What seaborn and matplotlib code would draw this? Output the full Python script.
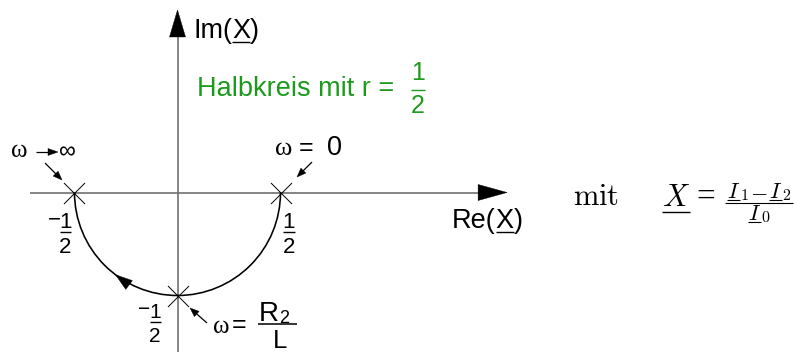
import numpy as np
import matplotlib
matplotlib.use("Agg")
import matplotlib.pyplot as plt
import matplotlib.transforms as mtransforms
from matplotlib.lines import Line2D
from matplotlib.patches import Arc, Polygon
import seaborn as sns

# Locus of X(omega): lower half circle with radius 1/2 around the origin
radius = 0.5
arc_from_deg, arc_to_deg = 180, 360
# characteristic frequencies on the locus
point_names = ["omega_inf", "omega_zero", "omega_R2L"]
point_re = [-0.5, 0.5, 0.0]
point_im = [0.0, 0.0, -0.5]
# extent of the drawn axes (data units)
re_axis = (-0.716, 1.60)
im_axis = (-0.80, 0.886)
# position of the direction arrow on the locus (degrees)
flow_arrow_deg = -127

W, H, DPI = 794, 352, 100
ORIGIN = (177.5, 192.5)   # pixel position of the origin
SCALE = 206.0             # pixels per unit

GRAY = "#6f6f6f"
GREEN = "#1c9a1c"
SANS = ["Liberation Sans", "DejaVu Sans"]
SERIF = ["Liberation Serif", "DejaVu Serif"]

sns.set_style("white")
plt.rcParams["font.family"] = SANS

fig = plt.figure(figsize=(W / DPI, H / DPI), dpi=DPI)
ax = fig.add_axes([0, 0, 1, 1])
ax.set_xlim(-ORIGIN[0] / SCALE, (W - ORIGIN[0]) / SCALE)
ax.set_ylim(-(H - ORIGIN[1]) / SCALE, ORIGIN[1] / SCALE)
ax.set_axis_off()

# pixel coordinates measured from the top-left corner
PX = mtransforms.Affine2D().scale(1, -1).translate(0, H)


def line(p, q, color="black", lw=0.9, transform=PX, z=3):
    ax.add_line(Line2D([p[0], q[0]], [p[1], q[1]], transform=transform,
                       color=color, lw=lw, solid_capstyle="butt", zorder=z))


def head(tip, direction, length, half, transform=PX, color="black"):
    d = np.asarray(direction, float)
    d = d / np.hypot(*d)
    n = np.array([-d[1], d[0]])
    tip = np.asarray(tip, float)
    base = tip - d * length
    ax.add_patch(Polygon([tip, base + n * half, base - n * half], closed=True,
                         transform=transform, facecolor=color,
                         edgecolor=color, lw=0.3, zorder=4))


def pointer(tail, tip, length=9.0, half=3.5):
    tail = np.asarray(tail, float)
    tip = np.asarray(tip, float)
    d = tip - tail
    d = d / np.hypot(*d)
    line(tail, tip - d * length * 0.8, lw=0.9)
    head(tip, d, length, half)


def txt(x, y, s, size, ha="left", va="baseline", color="black", family=SANS, **kw):
    return ax.text(x, y, s, transform=PX, fontsize=size, ha=ha, va=va,
                   color=color, family=family, **kw)


def run(pieces, x, y, align="left", color="black", ul_gap=3.5, ul_lw=1.0):
    """Lay out text pieces side by side; pieces may be underlined."""
    r = fig.canvas.get_renderer()
    placed, total = [], 0.0
    for p in pieces:
        kw = {}
        if p.get("math"):
            kw["math_fontfamily"] = p["math"]
        t = txt(0, y + p.get("dy", 0), p["s"], p["size"], color=color,
                family=p.get("family", SANS), **kw)
        w = t.get_window_extent(renderer=r).width
        placed.append((t, w, p))
        total += w + p.get("pad", 0)
    x0 = x - total / 2 if align == "center" else x
    for t, w, p in placed:
        t.set_x(x0)
        if p.get("ul"):
            line((x0, y + ul_gap), (x0 + w, y + ul_gap), color=color, lw=ul_lw)
        x0 += w + p.get("pad", 0)


def fraction(xc, y_num, y_bar, y_den, num, den, size, half_bar,
             color="black", minus=None, lw=1.0):
    txt(xc, y_num, num, size, ha="center", color=color)
    txt(xc, y_den, den, size, ha="center", color=color)
    line((xc - half_bar, y_bar), (xc + half_bar, y_bar), color=color, lw=lw)
    if minus is not None:
        txt(minus[0], minus[1], "\u2212", size, ha="right", color=color)


# ---- axes of the complex plane ----
ax.plot([re_axis[0], re_axis[1] - 0.13], [0, 0], color=GRAY, lw=1.2,
        solid_capstyle="butt", zorder=1)
ax.plot([0, 0], [im_axis[0], im_axis[1] - 0.12], color=GRAY, lw=1.2,
        solid_capstyle="butt", zorder=1)
head((re_axis[1], 0), (1, 0), 29 / SCALE, 8 / SCALE, transform=ax.transData)
head((0, im_axis[1]), (0, 1), 27 / SCALE, 8 / SCALE, transform=ax.transData)

# ---- locus: half circle with direction of increasing omega ----
ax.add_patch(Arc((0, 0), 2 * radius, 2 * radius, theta1=arc_from_deg,
                 theta2=arc_to_deg, color="black", lw=1.15, zorder=3))
th = np.deg2rad(flow_arrow_deg)
tip = (radius * np.cos(th), radius * np.sin(th))
head(tip, (np.sin(th), -np.cos(th)), 17 / SCALE, 5.5 / SCALE, transform=ax.transData)

# characteristic points
sns.scatterplot(x=point_re, y=point_im, ax=ax, marker="x", s=230,
                color="black", linewidth=0.7, legend=False, zorder=5)

# ---- axis titles ----
run([{"s": "Im(", "size": 19.5}, {"s": "X", "size": 19.5, "ul": True},
     {"s": ")", "size": 19.5}], 193, 38)
run([{"s": "Re(", "size": 19.5}, {"s": "X", "size": 19.5, "ul": True},
     {"s": ")", "size": 19.5}], 452, 228)

# ---- radius note ----
txt(197, 96.5, "Halbkreis mit r =", 19.5, color=GREEN)
fraction(418, 80, 89.5, 113, "1", "2", 18, 7, color=GREEN)

# ---- axis crossings ----
fraction(65.5, 228, 232, 253, "1", "2", 16, 5.5, minus=(60.5, 225))
fraction(289, 228, 232, 253, "1", "2", 16, 6)
fraction(155, 318, 322, 342, "1", "2", 15, 5.5, minus=(150, 315))

# ---- frequency annotations ----
txt(275, 155, "\u03c9", 19, family=SERIF)
txt(299, 155, "=", 18)
txt(327, 155, "0", 19.5)
pointer((312, 162), (297, 177))

txt(11, 157, "\u03c9", 18, family=SERIF)
pointer((36, 152), (58, 152), length=10, half=3.5)
txt(59, 158, "\u221e", 17)
pointer((45, 163), (62, 180))

txt(213, 333, "\u03c9", 18, family=SERIF)
txt(232, 332, "=", 18)
run([{"s": "R", "size": 20}, {"s": "2", "size": 13, "dy": 2}], 259, 321)
line((258, 323.5), (297, 323.5), lw=1.1)
txt(280, 347.5, "L", 18.5, ha="center")
pointer((207, 323), (190, 308))

# ---- definition of X ----
txt(573, 205, r"$\mathrm{mit}$", 22, math_fontfamily="cm")
run([{"s": r"$X$", "size": 22, "math": "cm", "ul": True}], 662, 206, ul_gap=5.5)
txt(696, 206, "=", 24, family=SERIF)
run([{"s": r"$I$", "size": 16, "math": "cm", "ul": True},
     {"s": r"$\mathrm{1}$", "size": 11.5, "math": "cm", "dy": 2.5, "pad": 1},
     {"s": r"$-$", "size": 16, "math": "cm", "pad": 1},
     {"s": r"$I$", "size": 16, "math": "cm", "ul": True},
     {"s": r"$\mathrm{2}$", "size": 11.5, "math": "cm", "dy": 2.5}],
    759, 198, align="center", ul_gap=2.0, ul_lw=0.8)
line((725, 203), (793, 203), lw=0.8)
run([{"s": r"$I$", "size": 16, "math": "cm", "ul": True},
     {"s": r"$\mathrm{0}$", "size": 11.5, "math": "cm", "dy": 2.5}],
    759, 220, align="center", ul_gap=2.0, ul_lw=0.8)

fig.savefig("out.png", dpi=DPI, facecolor="white")
